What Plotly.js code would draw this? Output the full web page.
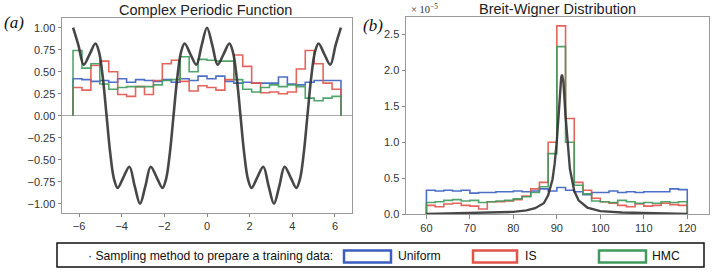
<!DOCTYPE html>
<html>
<head>
<meta charset="utf-8">
<script src="https://cdn.plot.ly/plotly-3.0.1.min.js"></script>
<style>html,body{margin:0;padding:0;background:#fff;}#chart{width:714px;height:273px;}</style>
</head>
<body>
<div id="chart"></div>
<script>
// ---------- Panel (a): Complex Periodic Function ----------
const binRangeA = [-6.2832, 6.2832];
const uniformA = [0.42,0.41,0.39,0.40,0.38,0.42,0.38,0.41,0.40,0.39,0.41,0.38,0.42,0.40,0.45,0.42,0.45,0.39,0.37,0.38,0.37,0.37,0.37,0.44,0.36,0.35,0.38,0.40,0.40,0.40];
const isA      = [0.32,0.29,0.57,0.62,0.50,0.24,0.22,0.33,0.24,0.40,0.59,0.63,0.39,0.28,0.34,0.32,0.29,0.41,0.69,0.56,0.37,0.26,0.27,0.25,0.27,0.53,0.74,0.59,0.37,0.30];
const hmcA     = [0.74,0.54,0.59,0.36,0.30,0.32,0.33,0.33,0.33,0.35,0.40,0.41,0.67,0.50,0.64,0.63,0.62,0.62,0.41,0.30,0.27,0.32,0.35,0.33,0.35,0.33,0.20,0.17,0.20,0.22];
const curveAx = [-6.28,-6.03,-5.78,-5.50,-5.23,-5.06,-4.88,-4.71,-4.54,-4.36,-4.19,-3.92,-3.64,-3.39,-3.14,
                 -2.89,-2.64,-2.36,-2.09,-1.92,-1.74,-1.57,-1.40,-1.22,-1.05,-0.78,-0.50,-0.25,0.00,
                 0.25,0.50,0.78,1.05,1.22,1.40,1.57,1.74,1.92,2.09,2.36,2.64,2.89,3.14,
                 3.39,3.64,3.92,4.19,4.36,4.54,4.71,4.88,5.06,5.23,5.50,5.78,6.03,6.28];
const curveAy = [1.00,0.80,0.58,0.70,0.82,0.72,0.42,0.00,-0.42,-0.72,-0.82,-0.70,-0.58,-0.80,-1.00,
                 -0.80,-0.58,-0.70,-0.82,-0.72,-0.42,0.00,0.42,0.72,0.82,0.70,0.58,0.80,1.00,
                 0.80,0.58,0.70,0.82,0.72,0.42,0.00,-0.42,-0.72,-0.82,-0.70,-0.58,-0.80,-1.00,
                 -0.80,-0.58,-0.70,-0.82,-0.72,-0.42,0.00,0.42,0.72,0.82,0.70,0.58,0.80,1.00];
const yTicksA = [-1.00,-0.75,-0.50,-0.25,0.00,0.25,0.50,0.75,1.00];
const xTicksA = [-6,-4,-2,0,2,4,6];

// ---------- Panel (b): Breit-Wigner Distribution (units of 1e-5) ----------
const binRangeB = [60, 120];
const uniformB = [0.33,0.32,0.33,0.32,0.33,0.29,0.30,0.30,0.31,0.31,0.32,0.31,0.32,0.35,0.32,0.37,0.33,0.31,0.27,0.30,0.30,0.32,0.30,0.31,0.30,0.31,0.31,0.31,0.35,0.34];
const isB      = [0.12,0.10,0.14,0.15,0.12,0.11,0.07,0.17,0.17,0.18,0.20,0.25,0.35,0.44,1.00,2.62,1.33,0.44,0.33,0.22,0.17,0.15,0.12,0.10,0.14,0.11,0.12,0.15,0.13,0.12];
const hmcB     = [0.16,0.17,0.19,0.20,0.18,0.19,0.16,0.17,0.18,0.19,0.21,0.24,0.30,0.38,0.84,2.33,1.00,0.40,0.28,0.18,0.17,0.16,0.19,0.17,0.15,0.16,0.15,0.17,0.16,0.17];
const curveBx = [60,65,70,75,80,83,85,87,88,89,89.5,90,90.5,91,91.2,91.5,92,92.5,93,94,95,97,100,105,110,115,120];
const curveBy = [0.00,0.01,0.01,0.02,0.03,0.05,0.08,0.15,0.26,0.48,0.70,1.02,1.50,1.90,1.94,1.85,1.37,0.93,0.63,0.32,0.19,0.09,0.04,0.02,0.01,0.01,0.00];
const yTicksB = [0.0,0.5,1.0,1.5,2.0,2.5];
const xTicksB = [60,70,80,90,100,110,120];

const methods = ['Uniform','IS','HMC'];
const colors = ['#3a5fc0','#e2534a','#3f9a5c'];

function edges(range, n){ const e=[]; for(let i=0;i<=n;i++) e.push(range[0]+(range[1]-range[0])*i/n); return e; }
function stepTrace(range, vals, color, xa, ya){
  const n = vals.length, e = edges(range, n);
  const x=[e[0]], y=[0];
  for(let i=0;i<n;i++){ x.push(e[i]); y.push(vals[i]); }
  x.push(e[n]); y.push(vals[n-1]); x.push(e[n]); y.push(0);
  return {x:x, y:y, type:'scatter', mode:'lines', line:{color:color, width:1.6, shape:'hv'}, opacity:0.9, xaxis:xa, yaxis:ya, hoverinfo:'skip', showlegend:false};
}

const data = [
  stepTrace(binRangeA, uniformA, colors[0], 'x', 'y'),
  stepTrace(binRangeA, isA, colors[1], 'x', 'y'),
  stepTrace(binRangeA, hmcA, colors[2], 'x', 'y'),
  {x:curveAx, y:curveAy, type:'scatter', mode:'lines', line:{color:'#333', width:2.6, shape:'spline', smoothing:1}, opacity:0.9, xaxis:'x', yaxis:'y', showlegend:false},
  stepTrace(binRangeB, uniformB, colors[0], 'x2', 'y2'),
  stepTrace(binRangeB, isB, colors[1], 'x2', 'y2'),
  stepTrace(binRangeB, hmcB, colors[2], 'x2', 'y2'),
  {x:curveBx, y:curveBy, type:'scatter', mode:'lines', line:{color:'#333', width:2.4}, opacity:0.9, xaxis:'x2', yaxis:'y2', showlegend:false}
];

const W=714, H=273;
const px = v => v/W, py = v => (H-v)/H;
const tickFont = {family:'Liberation Sans, Arial, sans-serif', size:11, color:'#333'};
const axBase = {showline:true, mirror:true, linecolor:'#9a9a9a', linewidth:1, ticks:'outside', ticklen:3.5, tickwidth:0.8, tickcolor:'#666', showgrid:false, tickfont:tickFont, fixedrange:true};

const layout = {
  width:W, height:H, margin:{l:0,r:0,t:0,b:0}, paper_bgcolor:'#fff', plot_bgcolor:'#fff', showlegend:false,
  xaxis: Object.assign({}, axBase, {domain:[px(62), px(352)], range:[-6.8, 6.8], tickvals:xTicksA, zeroline:false, anchor:'y'}),
  yaxis: Object.assign({}, axBase, {domain:[py(212.5), py(18)], range:[-1.1, 1.11], tickvals:yTicksA, tickformat:'.2f', zeroline:true, zerolinecolor:'#aaaaaa', zerolinewidth:1, anchor:'x'}),
  xaxis2: Object.assign({}, axBase, {domain:[px(406), px(709)], range:[55.3, 125], tickvals:xTicksB, zeroline:false, anchor:'y2'}),
  yaxis2: Object.assign({}, axBase, {domain:[py(214), py(16.5)], range:[0, 2.75], tickvals:yTicksB, tickformat:'.1f', zeroline:false, anchor:'x2'}),
  annotations: [
    {text:'Complex Periodic Function', xref:'paper', yref:'paper', x:px(206), y:py(10), xanchor:'center', yanchor:'middle', showarrow:false, font:{family:'Liberation Sans, Arial, sans-serif', size:14.5, color:'#222'}},
    {text:'Breit-Wigner Distribution', xref:'paper', yref:'paper', x:px(557), y:py(9), xanchor:'center', yanchor:'middle', showarrow:false, font:{family:'Liberation Sans, Arial, sans-serif', size:14.5, color:'#222'}},
    {text:'<i>(a)</i>', xref:'paper', yref:'paper', x:px(2), y:py(22), xanchor:'left', yanchor:'middle', showarrow:false, font:{family:'Liberation Serif, Times New Roman, serif', size:17, color:'#111'}},
    {text:'<i>(b)</i>', xref:'paper', yref:'paper', x:px(361), y:py(25), xanchor:'left', yanchor:'middle', showarrow:false, font:{family:'Liberation Serif, Times New Roman, serif', size:17, color:'#111'}},
    {text:'× 10<sup>−5</sup>', xref:'paper', yref:'paper', x:px(409), y:py(8), xanchor:'left', yanchor:'middle', showarrow:false, font:{family:'Liberation Serif, Times New Roman, serif', size:10.5, color:'#333'}},
    {text:'· Sampling method to prepare a training data:', xref:'paper', yref:'paper', x:px(86), y:py(255.5), xanchor:'left', yanchor:'middle', showarrow:false, font:{family:'Liberation Sans, Arial, sans-serif', size:12.2, color:'#111'}},
    {text:methods[0], xref:'paper', yref:'paper', x:px(396), y:py(255.5), xanchor:'left', yanchor:'middle', showarrow:false, font:{family:'Liberation Sans, Arial, sans-serif', size:12.2, color:'#111'}},
    {text:methods[1], xref:'paper', yref:'paper', x:px(523), y:py(255.5), xanchor:'left', yanchor:'middle', showarrow:false, font:{family:'Liberation Sans, Arial, sans-serif', size:12.2, color:'#111'}},
    {text:methods[2], xref:'paper', yref:'paper', x:px(650), y:py(255.5), xanchor:'left', yanchor:'middle', showarrow:false, font:{family:'Liberation Sans, Arial, sans-serif', size:12.2, color:'#111'}}
  ],
  shapes: [
    {type:'rect', xref:'paper', yref:'paper', x0:px(57), x1:px(704), y0:py(267), y1:py(243), line:{color:'#111', width:1.5}, fillcolor:'rgba(0,0,0,0)'},
    {type:'rect', xref:'paper', yref:'paper', x0:px(344), x1:px(391), y0:py(262.5), y1:py(250.5), line:{color:colors[0], width:2.5}, fillcolor:'#fff'},
    {type:'rect', xref:'paper', yref:'paper', x0:px(473), x1:px(517), y0:py(262.5), y1:py(250.5), line:{color:colors[1], width:2.5}, fillcolor:'#fff'},
    {type:'rect', xref:'paper', yref:'paper', x0:px(599), x1:px(646), y0:py(262.5), y1:py(250.5), line:{color:colors[2], width:2.5}, fillcolor:'#fff'}
  ]
};

Plotly.newPlot('chart', data, layout, {displayModeBar:false, staticPlot:true});
</script>
</body>
</html>
